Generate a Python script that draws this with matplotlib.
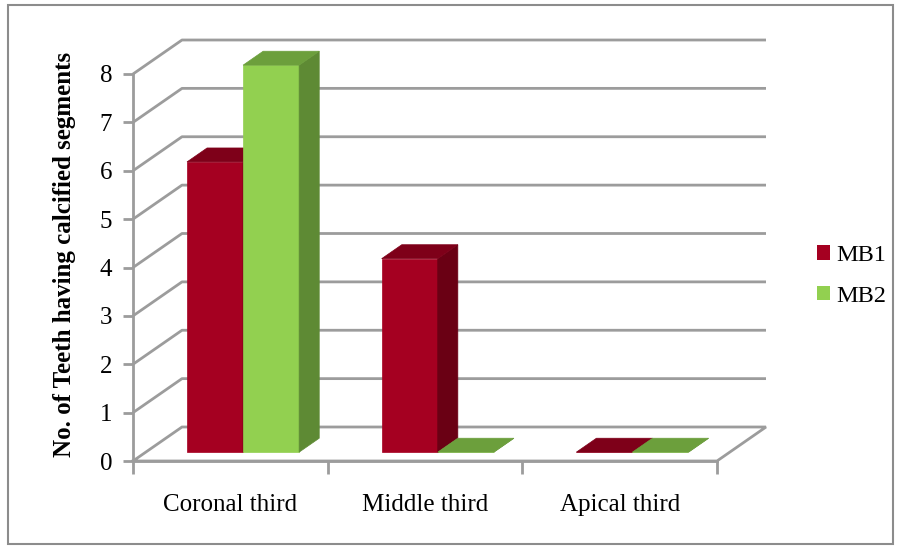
import matplotlib.pyplot as plt
from matplotlib.patches import Polygon, Patch

# Calcified segments per root third
categories = ["Coronal third", "Middle third", "Apical third"]
mb1 = [6, 4, 0]
mb2 = [8, 0, 0]
series_names = ["MB1", "MB2"]
y_ticks = [0, 1, 2, 3, 4, 5, 6, 7, 8]

plt.rcParams['font.family'] = ['Liberation Serif', 'DejaVu Serif']

W, H = 901, 546
fig = plt.figure(figsize=(W / 100, H / 100), dpi=100)

# front plane of the 3D box, in pixels
x0, x1 = 133, 717
y0, y8 = 461, 74
ax = fig.add_axes([x0 / W, 1 - y0 / H, (x1 - x0) / W, (y0 - y8) / H])
ax.set_xlim(0, 3)
ax.set_ylim(0, 8)

# oblique depth vector (49 px right, 34 px up) in data units
DX = 49 / ((x1 - x0) / 3)
DY = 34 / ((y0 - y8) / 8)

grid_c = '#9c9c9c'

# walls: diagonal on the left wall, horizontal on the back wall
for v in y_ticks[1:]:
    ax.plot([0, DX, 3 + DX], [v, v + DY, v + DY], color=grid_c, lw=2,
            zorder=1, clip_on=False, solid_capstyle='butt')
# floor
ax.plot([0, DX, 3 + DX, 3, 0], [0, DY, DY, 0, 0], color=grid_c, lw=2,
        zorder=1, clip_on=False, solid_joinstyle='miter')

colors = {
    "MB1": ('#A50021', '#7E0019', '#6A0014'),
    "MB2": ('#92D050', '#6C9F3C', '#5E8A34'),
}

bar_w = 0.288
depth_front = 0.26
depth_back = 0.67


def draw_bar(xl, h, face, top, side):
    fx0, fy0 = depth_front * DX, depth_front * DY
    bx0, by0 = depth_back * DX, depth_back * DY
    xr = xl + bar_w
    front = [(xl + fx0, fy0), (xr + fx0, fy0), (xr + fx0, h + fy0), (xl + fx0, h + fy0)]
    lid = [(xl + fx0, h + fy0), (xr + fx0, h + fy0), (xr + bx0, h + by0), (xl + bx0, h + by0)]
    right = [(xr + fx0, fy0), (xr + bx0, by0), (xr + bx0, h + by0), (xr + fx0, h + fy0)]
    for pts, c in ((front, face), (right, side), (lid, top)):
        ax.add_patch(Polygon(pts, closed=True, facecolor=c, edgecolor=c,
                             lw=0.5, zorder=3, clip_on=False))


for i in range(len(categories)):
    left = i + (1 - 2 * bar_w) / 2
    for j, (name, vals) in enumerate(zip(series_names, [mb1, mb2])):
        draw_bar(left + j * bar_w, vals[i], *colors[name])

# axes styling
for s in ['top', 'right']:
    ax.spines[s].set_visible(False)
for s in ['left', 'bottom']:
    ax.spines[s].set_color(grid_c)
    ax.spines[s].set_linewidth(2)
    ax.spines[s].set_zorder(2)

ax.set_yticks(y_ticks)
ax.set_yticklabels([str(t) for t in y_ticks], fontsize=18)
ax.tick_params(axis='y', length=7, width=2, color=grid_c, pad=8)

ax.set_xticks([0.5, 1.5, 2.5])
ax.set_xticklabels(categories, fontsize=18)
ax.set_xticks([0, 1, 2, 3], minor=True)
ax.tick_params(axis='x', which='major', length=0, pad=24)
ax.tick_params(axis='x', which='minor', length=9, width=2, color=grid_c)
ax.patch.set_alpha(0)

fig.text(65 / W, 1 - 254 / H, "No. of Teeth having calcified segments",
         rotation=90, ha='center', va='center', fontsize=18, fontweight='bold')

handles = [Patch(facecolor=colors[n][0], edgecolor='none') for n in series_names]
fig.legend(handles, series_names, loc='center left',
           bbox_to_anchor=(795 / W, 1 - 276 / H), frameon=False, fontsize=17.5,
           handlelength=0.55, handleheight=0.55, handletextpad=0.25,
           labelspacing=0.8)

# outer chart border
fig.add_artist(plt.Rectangle((8 / W, 1 - 544 / H), 885 / W, 539 / H,
                             transform=fig.transFigure, fill=False,
                             edgecolor='#8c8c8c', lw=1.5))

fig.savefig('out.png', dpi=100)
